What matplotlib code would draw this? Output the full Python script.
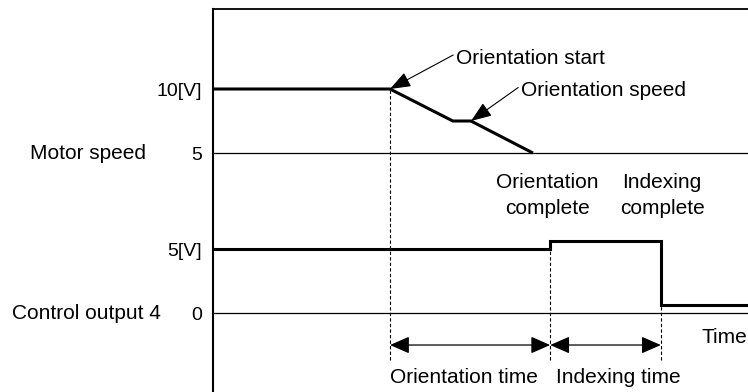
import matplotlib.pyplot as plt
from matplotlib.transforms import blended_transform_factory

plt.rcParams["font.family"] = ["Liberation Sans", "DejaVu Sans"]
plt.rcParams["font.size"] = 15

# time axis in arbitrary units, voltages in V
motor_t = [0.0, 4.0, 5.42, 5.83, 7.23]
motor_v = [10, 10, 7.5, 7.5, 5]
ctrl_t = [0.0, 7.62, 7.62, 10.12, 10.12, 12.2]
ctrl_v = [5, 5, 5.6, 5.6, 0.6, 0.6]

t_orient_start = 4.0
t_orient_done = 7.62
t_index_done = 10.12

motor_offset = 7.5  # motor track drawn above the control output track
motor_ticks = [10, 5]
motor_tick_labels = ["10[V]", "5"]
ctrl_ticks = [5, 0]
ctrl_tick_labels = ["5[V]", "0"]

fig = plt.figure(figsize=(7.48, 3.92), dpi=100)
ax = fig.add_axes([213 / 748, 0, 1 - 213 / 748, 1 - 9 / 392])
ax.set_xlim(0, 12.09)
ax.set_ylim(-6.17, 23.75)

for side in ["right", "bottom"]:
    ax.spines[side].set_visible(False)
ax.spines["left"].set_linewidth(1.5)
ax.spines["top"].set_linewidth(1.3)
ax.set_xticks([])

yt = [v + motor_offset for v in motor_ticks] + ctrl_ticks
ax.set_yticks(yt)
ax.set_yticklabels(motor_tick_labels + ctrl_tick_labels)
ax.tick_params(axis="y", length=0, pad=8, labelsize=14)

# baselines
ax.axhline(5 + motor_offset, color="black", lw=0.9)
ax.axhline(0, color="black", lw=0.9)

# signals
ax.plot(motor_t, [v + motor_offset for v in motor_v], color="black", lw=2.2,
        solid_joinstyle="miter", solid_capstyle="butt")
ax.plot(ctrl_t, ctrl_v, color="black", lw=2.2, solid_joinstyle="miter",
        solid_capstyle="butt")

# dashed event markers
y_dash_end = -3.7
ax.vlines(t_orient_start, y_dash_end, motor_v[0] + motor_offset, colors="black",
          lw=0.8, linestyles=(0, (3, 2)))
ax.vlines(t_orient_done, y_dash_end, 5, colors="black", lw=0.8,
          linestyles=(0, (3, 2)))
ax.vlines(t_index_done, y_dash_end, 0.6, colors="black", lw=0.8,
          linestyles=(0, (3, 2)))

# time spans
y_span = -2.5
span_style = dict(arrowstyle="<|-|>,head_length=0.8,head_width=0.35",
                  color="black", lw=0.9, shrinkA=0, shrinkB=0,
                  mutation_scale=15)
ax.annotate("", xy=(t_orient_done, y_span), xytext=(t_orient_start, y_span),
            arrowprops=span_style)
ax.annotate("", xy=(t_index_done, y_span), xytext=(t_orient_done, y_span),
            arrowprops=span_style)

ax.text(5.67, -5.0, "Orientation time", ha="center", va="center")
ax.text(9.17, -5.0, "Indexing time", ha="center", va="center")
ax.text(12.07, -1.9, "Time", ha="right", va="center")

ax.text(7.55, 9.2, "Orientation\ncomplete", ha="center", va="center",
        linespacing=1.45)
ax.text(10.15, 9.2, "Indexing\ncomplete", ha="center", va="center",
        linespacing=1.45)

# callouts
callout = dict(arrowstyle="-|>,head_length=0.85,head_width=0.32", color="black",
               lw=0.8, shrinkA=0, shrinkB=0, mutation_scale=15)
ax.annotate("Orientation start", xy=(t_orient_start, motor_v[1] + motor_offset),
            xytext=(5.49, 19.9), ha="left", va="center",
            arrowprops=dict(callout, relpos=(0, 0.75)))
ax.annotate("Orientation speed", xy=(motor_t[3], motor_v[3] + motor_offset),
            xytext=(6.96, 17.4), ha="left", va="center",
            arrowprops=dict(callout, relpos=(0, 0.75)))

# track names
tr = blended_transform_factory(fig.transFigure, ax.transData)
ax.text(30 / 748, 5 + motor_offset, "Motor speed", transform=tr,
        ha="left", va="center")
ax.text(12 / 748, 0, "Control output 4", transform=tr, ha="left", va="center")

fig.savefig("out.png", dpi=100)
